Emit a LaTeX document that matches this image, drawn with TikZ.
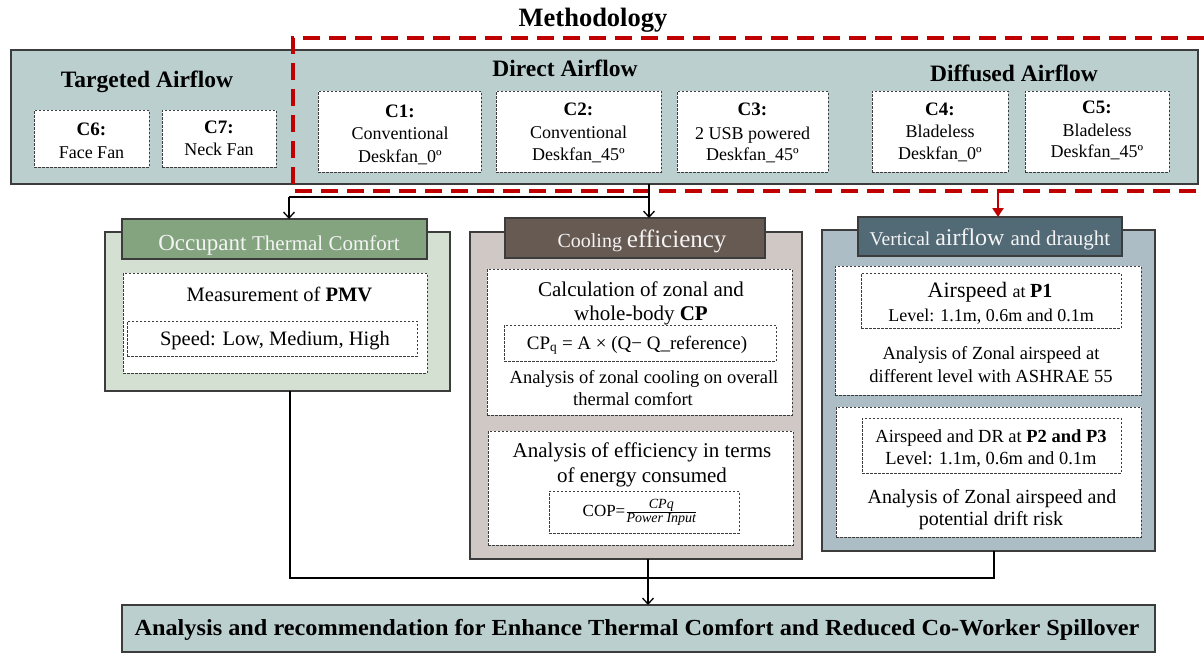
\documentclass[tikz,border=0pt]{standalone}
\usepackage{fontspec}
\setmainfont{Liberation Serif}
\usepackage{graphicx}
\usetikzlibrary{arrows.meta,fit}
\definecolor{topfill}{HTML}{BACFCE}
\definecolor{grnhead}{HTML}{83A47F}
\definecolor{grnbody}{HTML}{D4E1D2}
\definecolor{brnhead}{HTML}{675A53}
\definecolor{brnbody}{HTML}{D0C8C5}
\definecolor{slthead}{HTML}{526976}
\definecolor{sltbody}{HTML}{ADBDC5}
\definecolor{redd}{HTML}{C00000}
\definecolor{edgec}{HTML}{3C3C3C}
\definecolor{headtxt}{HTML}{F4F4F4}
\newcommand\setfs[1]{\fontsize{#1}{#1}\selectfont}
\begin{document}
\begin{tikzpicture}[x=1pt,y=-1pt,
  every node/.style={inner sep=0pt,outer sep=0pt},
  solidbox/.style={draw=edgec,line width=1.4pt},
  dbox/.style={draw=edgec,line width=0.9pt,dash pattern=on 2.5pt off 1.5pt,fill=white},
  txt/.style={anchor=base,text=black},
  htxt/.style={anchor=base,text=headtxt},
  ttl/.style={anchor=base,font=\bfseries\setfs{23.5}},
  clab/.style={anchor=base,font=\bfseries\setfs{19}},
  ctxt/.style={anchor=base,font=\setfs{18}},
  conn/.style={draw=black,line width=1.3pt},
  tip/.style={-{Straight Barb[length=6pt,width=11pt,line width=1.3pt]}},
  redline/.style={draw=redd,line width=3.5pt,dash pattern=on 17pt off 9pt},
  redarrow/.style={draw=redd,line width=2.5pt,-{Triangle[length=9pt,width=11pt]}}]
\useasboundingbox (0,0) rectangle (1204,653);

% title
\node[anchor=base,font=\bfseries\setfs{26.5}] (title) at (593,26) {Methodology};

% top box
\node[solidbox,fill=topfill,fit={(11,50)(1198,184)}] (top) {};
\node[ttl] (tat) at (147,87) {Targeted Airflow};
\node[ttl] (tdir) at (565,76) {Direct Airflow};
\node[ttl] (tdif) at (1014,81) {Diffused Airflow};

\node[dbox,fit={(34,110)(149,167)}] (c6) {};
\node[dbox,fit={(162,110)(276,167)}] (c7) {};
\node[dbox,fit={(318,91)(481,172)}] (c1) {};
\node[dbox,fit={(496,91)(661,172)}] (c2) {};
\node[dbox,fit={(677,91)(828,172)}] (c3) {};
\node[dbox,fit={(872,91)(1008,172)}] (c4) {};
\node[dbox,fit={(1025,91)(1169,172)}] (c5) {};

\node[clab] (c6a) at (91.5,135) {C6:};
\node[ctxt] (c6b) at (91.5,158) {Face Fan};
\node[clab] (c7a) at (219,133) {C7:};
\node[ctxt] (c7b) at (219,155) {Neck Fan};
\node[clab] (c1a) at (400,117) {C1:};
\node[ctxt] (c1b) at (400,139) {Conventional};
\node[ctxt] (c1c) at (400,162) {Deskfan\_0º};
\node[clab] (c2a) at (578.5,115) {C2:};
\node[ctxt] (c2b) at (578.5,138) {Conventional};
\node[ctxt] (c2c) at (578.5,160) {Deskfan\_45º};
\node[clab] (c3a) at (752.5,115) {C3:};
\node[ctxt] (c3b) at (752.5,139) {2 USB powered};
\node[ctxt] (c3c) at (752.5,160) {Deskfan\_45º};
\node[clab] (c4a) at (940,115) {C4:};
\node[ctxt] (c4b) at (940,137) {Bladeless};
\node[ctxt] (c4c) at (940,159) {Deskfan\_0º};
\node[clab] (c5a) at (1097,113) {C5:};
\node[ctxt] (c5b) at (1097,136) {Bladeless};
\node[ctxt] (c5c) at (1097,157) {Deskfan\_45º};

% red dashed region (right side runs off the picture)
\draw[redline] (1204,38) -- (293,38) -- (293,191) -- (1204,191);

% left panel
\node[solidbox,fill=grnbody,fit={(105,232)(450,391)}] (occ) {};
\node[solidbox,fill=grnhead,fit={(122,219)(427,259)}] (occh) {};
\node[htxt] (occt) at (279,250) {\setfs{23}Occupant \setfs{21}Thermal Comfort};
\node[dbox,fit={(123,273)(427,373)}] (occa) {};
\node[dbox,fit={(127,321)(417,356)}] (occb) {};
\node[txt,font=\setfs{20.5}] (occat) at (279.5,301) {Measurement of \textbf{PMV}};
\node[txt,font=\setfs{20.5}] (occbt) at (275,345) {Speed: Low, Medium, High};

% middle panel
\node[solidbox,fill=brnbody,fit={(470,232)(802,559)}] (coo) {};
\node[solidbox,fill=brnhead,fit={(505,218)(765,258)}] (cooh) {};
\node[htxt] (coot) at (642,247) {\setfs{20}Cooling \setfs{25}efficiency};
\node[dbox,fit={(487,269)(792,415)}] (cooa) {};
\node[dbox,fit={(504,325)(776,361)}] (coof) {};
\node[dbox,fit={(488,431)(793,545)}] (coob) {};
\node[dbox,fit={(549,491)(739,533)}] (cooc) {};
\node[txt,font=\setfs{21}] (cooa1) at (641,296) {Calculation of zonal and};
\node[txt,font=\setfs{21}] (cooa2) at (641,320) {whole-body \textbf{CP}};
\node[txt,font=\setfs{19}] (coof1) at (637,349) {CP\textsubscript{q} = A × (Q− Q\_reference)};
\node[txt,font=\setfs{18.5}] (cooa3) at (644,383) {Analysis of zonal cooling on overall};
\node[txt,font=\setfs{18.5}] (cooa4) at (633,405) {thermal comfort};
\node[txt,font=\setfs{21}] (coob1) at (642,457) {Analysis of efficiency in terms};
\node[txt,font=\setfs{21}] (coob2) at (642,482) {of energy consumed};
\node[font=\setfs{17}] (coocf) at (640,512) {COP=\(\frac{\hbox{\setfs{14}\itshape CPq}}{\hbox{\setfs{14}\itshape Power Input}}\)};

% right panel
\node[solidbox,fill=sltbody,fit={(822,230)(1155,551)}] (ver) {};
\node[solidbox,fill=slthead,fit={(858,217)(1122,256)}] (verh) {};
\node[htxt] (vert) at (990,245) {\setfs{19.5}Vertical \setfs{24}airflow \setfs{21}and draught};
\node[dbox,fit={(835,266)(1141,395)}] (vera) {};
\node[dbox,fit={(861,273)(1121,328)}] (veraa) {};
\node[dbox,fit={(836,407)(1141,537)}] (verb) {};
\node[dbox,fit={(862,418)(1121,473)}] (verbb) {};
\node[txt] (vera1) at (990,297) {\setfs{22}Airspeed \setfs{18}at \setfs{20}\textbf{P1}};
\node[txt,font=\setfs{18}] (vera2) at (991,321) {Level: 1.1m, 0.6m and 0.1m};
\node[txt,font=\setfs{18.5}] (vera3) at (991,359) {Analysis of Zonal airspeed at};
\node[txt,font=\setfs{18.5}] (vera4) at (991,382) {different level with ASHRAE 55};
\node[txt,font=\setfs{18.5}] (verb1) at (991,442) {Airspeed and DR at \textbf{P2 and P3}};
\node[txt,font=\setfs{18.5}] (verb2) at (991,464) {Level: 1.1m, 0.6m and 0.1m};
\node[txt,font=\setfs{20}] (verb3) at (992,503) {Analysis of Zonal airspeed and};
\node[txt,font=\setfs{20}] (verb4) at (991,525) {potential drift risk};

% bottom box
\node[solidbox,fill=topfill,fit={(122,605)(1155,652)}] (fin) {};
\node[txt,font=\bfseries\setfs{23}] (fint) at (637,635) {\resizebox{1005pt}{\height}{Analysis and recommendation for Enhance Thermal Comfort and Reduced Co-Worker Spillover}};

% connectors
\coordinate (ja) at (649,197);
\coordinate (jb) at (289,197);
\draw[conn] (top.south -| ja) -- (ja) -- (jb);
\draw[conn,tip] (jb) -- (occh.north -| jb);
\draw[conn,tip] (ja) -- (cooh.north -| ja);
\coordinate (ra) at (998,191);
\draw[redarrow] (ra) -- (verh.north -| ra);
\coordinate (jl) at (290,578);
\coordinate (jr) at (994,578);
\coordinate (jm) at (648,578);
\draw[conn] (occ.south -| jl) -- (jl) -- (jr) -- (ver.south -| jr);
\draw[conn,tip] (coo.south -| jm) -- (fin.north -| jm);
\end{tikzpicture}
\end{document}
